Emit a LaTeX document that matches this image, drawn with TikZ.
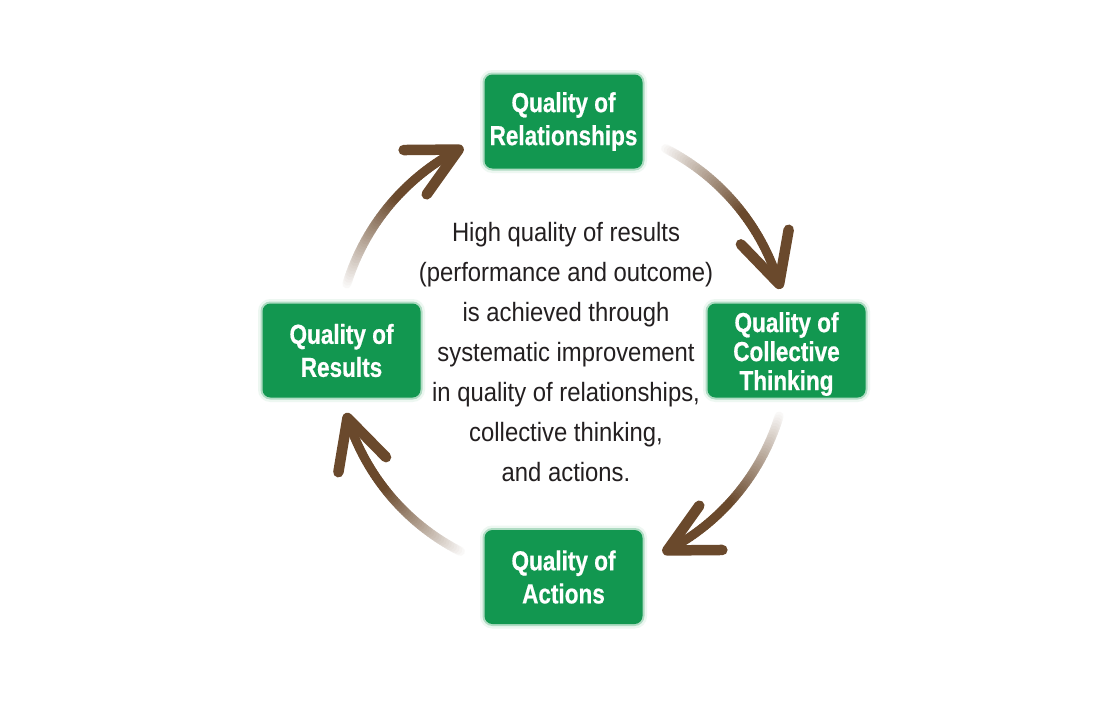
\documentclass[tikz,border=0pt]{standalone}
\usepackage{fontspec}
\newfontfamily\boxfont[FakeStretch=0.82,FakeBold=0.6]{Liberation Sans}
\newfontfamily\bodyfont[FakeStretch=0.9]{Liberation Sans}
\usetikzlibrary{calc}
\definecolor{qgreen}{RGB}{18,151,80}
\definecolor{brn}{RGB}{106,73,44}
\definecolor{txt}{RGB}{35,31,32}
\newcommand\gradarrow[3]{% start angle, end angle, name
  \coordinate (#3s) at ({563+226*cos(#1)},{350+226*sin(#1)});
  \coordinate (#3t) at ({563+226*cos(#2)},{350+226*sin(#2)});
  \foreach \i in {0,...,59}{%
    \pgfmathsetmacro\aa{#1+(#2-#1)*\i/60}%
    \pgfmathsetmacro\ab{#1+(#2-#1)*(\i+1)/60}%
    \pgfmathsetmacro\pc{min(100,4+\i*96/34)}%
    \draw[arcline, draw=brn!\pc!white] ({563+226*cos(\aa)},{350+226*sin(\aa)}) -- ({563+226*cos(\ab)},{350+226*sin(\ab)});
  }%
  \pgfmathsetmacro\bk{#2-90}%
  \draw[headline] (#3t) ++(\bk+27:55) -- (#3t) -- ++(\bk-27:55);
}
\begin{document}
\begin{tikzpicture}[x=1pt,y=-1pt,
  qbox/.style={fill=qgreen, rounded corners=8pt, minimum width=158pt, minimum height=94pt,
    text=white, align=center, inner sep=0pt,
    preaction={draw=qgreen!25, line width=9pt, opacity=0.3},
    preaction={draw=qgreen!55, line width=4pt, opacity=0.55}},
  twoline/.style={font=\boxfont\bfseries\fontsize{27.5}{33}\selectfont},
  threeline/.style={font=\boxfont\bfseries\fontsize{27.5}{29}\selectfont},
  arcline/.style={line width=9pt, line cap=round},
  headline/.style={line width=10.5pt, line cap=round, line join=round, draw=brn},
  body/.style={text=txt, align=center, font=\bodyfont\fontsize{26.5}{40}\selectfont}]
\useasboundingbox[fill=white] (0,0) rectangle (1093,712);
\node[qbox, twoline] (rel) at (563.5,121.5) {Quality of\\Relationships};
\node[qbox, threeline] (col) at (786.5,350.5) {\rule{0pt}{27pt}Quality of\\Collective\\Thinking};
\node[qbox, twoline] (act) at (563.5,577) {Quality of\\Actions};
\node[qbox, twoline] (res) at (341.5,350.5) {Quality of\\Results};
\node[body] (mid) at (566,352) {High quality of results\\(performance and outcome)\\is achieved through\\systematic improvement\\in quality of relationships,\\collective thinking,\\and actions.};
\gradarrow{-63}{-17}{tr}
\gradarrow{17}{62.5}{br}
\gradarrow{117}{162.5}{bl}
\gradarrow{197}{242.5}{tl}
\end{tikzpicture}
\end{document}
